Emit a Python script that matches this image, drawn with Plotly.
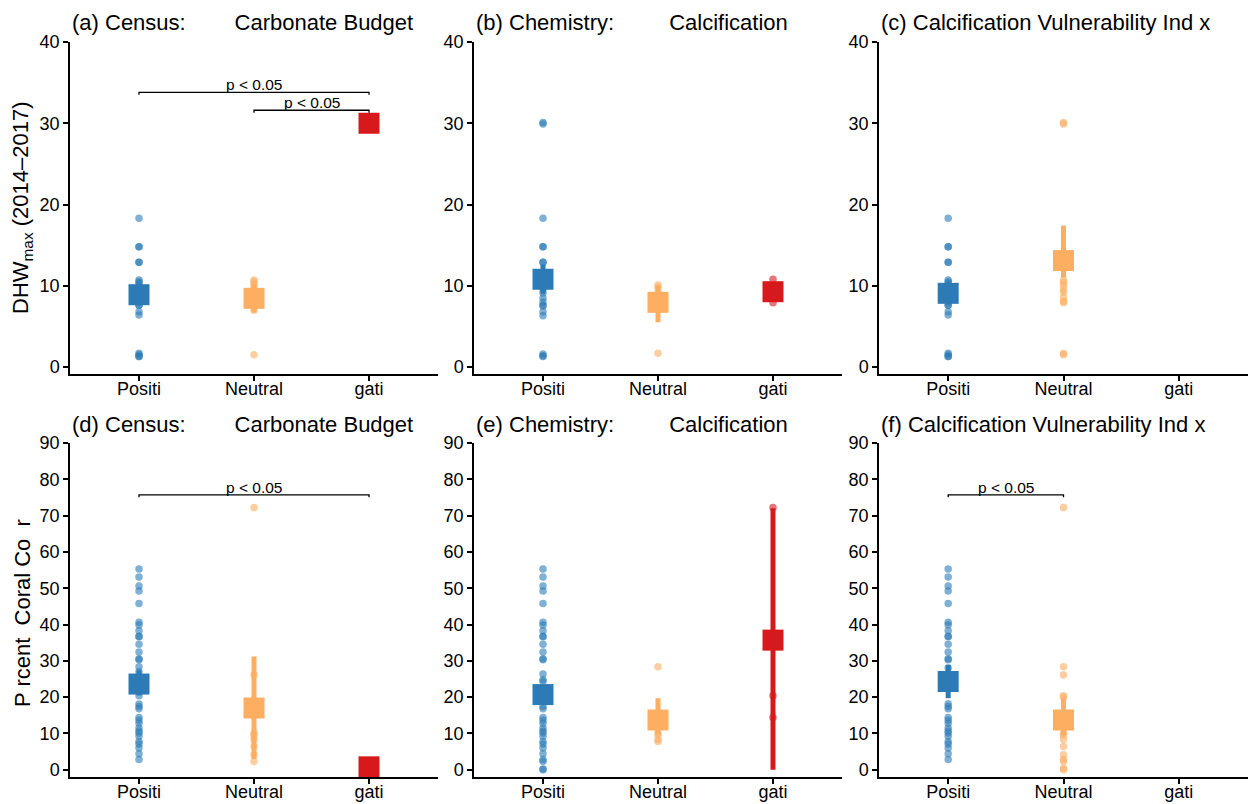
import plotly.graph_objects as go

# ---------------- data ----------------
categories = ["Positi", "Neutral", "gati"]
colors = ["#2C7BB6", "#FDAE61", "#D7191C"]

titles = [
    "(a) Census:\u00a0\u00a0\u00a0\u00a0\u00a0\u00a0\u00a0\u00a0Carbonate Budget",
    "(b) Chemistry:\u00a0\u00a0\u00a0\u00a0\u00a0\u00a0\u00a0\u00a0\u00a0Calcification",
    "(c) Calcification Vulnerability Ind x",
    "(d) Census:\u00a0\u00a0\u00a0\u00a0\u00a0\u00a0\u00a0\u00a0Carbonate Budget",
    "(e) Chemistry:\u00a0\u00a0\u00a0\u00a0\u00a0\u00a0\u00a0\u00a0\u00a0Calcification",
    "(f) Calcification Vulnerability Ind x",
]
ytitle_top = "DHW<sub>max</sub> (2014\u20132017)"
ytitle_bottom = "P rcent\u00a0 Coral Co\u00a0 r"

# DHWmax panels
a_pos = [18.3, 14.8, 14.8, 12.9, 12.9, 10.7, 10.5, 10.3, 10.0, 9.6, 9.2, 8.8, 8.4, 8.0, 7.6, 7.6, 6.8, 6.4, 1.7, 1.5, 1.3, 1.3]
a_neu = [10.7, 10.5, 10.2, 9.8, 9.0, 8.5, 8.0, 7.4, 7.0, 1.5]
a_neg = [30.0]
a_mean = [8.9, 8.45, 30.0]
a_lo = [7.7, 6.7, 30.0]
a_hi = [10.1, 10.2, 30.0]

b_pos = [30.1, 29.9, 18.3, 14.8, 14.8, 12.9, 12.9, 11.5, 10.7, 10.3, 9.6, 9.1, 8.5, 8.0, 7.6, 7.5, 6.8, 6.3, 1.6, 1.4, 1.3]
b_neu = [10.1, 9.8, 9.2, 8.5, 7.8, 7.2, 1.7]
b_neg = [10.8, 9.5, 8.5, 7.9]
b_mean = [10.8, 7.96, 9.27]
b_lo = [9.0, 5.5, 8.3]
b_hi = [12.6, 10.0, 10.3]

c_pos = [18.3, 14.8, 14.8, 12.9, 12.9, 10.7, 10.5, 10.3, 10.0, 9.6, 9.2, 8.8, 8.4, 8.0, 7.6, 7.6, 6.8, 6.4, 1.7, 1.5, 1.3, 1.3]
c_neu = [30.1, 29.9, 10.7, 10.4, 10.0, 9.5, 9.2, 8.6, 8.1, 7.9, 1.7, 1.5]
c_neg = []
c_mean = [9.07, 13.1, None]
c_lo = [7.9, 11.0, None]
c_hi = [10.2, 17.4, None]

# Percent coral cover panels
d_pos = [55.3, 53.1, 50.6, 49.2, 45.8, 40.6, 39.9, 38.3, 36.8, 36.6, 34.6, 32.4, 30.6, 30.3, 28.4, 27.0,
         25.5, 23.0, 21.5, 20.4, 18.1, 17.4, 16.8, 14.4, 13.6, 12.8, 11.5, 10.7, 10.1, 9.2, 7.8, 7.1, 6.0, 4.4, 2.8]
d_neu = [72.2, 26.1, 18.0, 16.0, 10.1, 9.6, 8.3, 6.4, 4.1, 2.3]
d_neg = [0.8]
d_mean = [23.6, 17.0, 0.8]
d_lo = [20.5, 3.0, 0.8]
d_hi = [27.4, 31.2, 0.8]

e_pos = [55.3, 53.1, 50.6, 49.2, 45.8, 40.6, 39.9, 38.3, 36.8, 36.6, 34.6, 32.4, 30.6, 30.3, 26.4, 24.8,
         24.3, 22.0, 19.5, 17.4, 16.8, 14.4, 13.6, 12.8, 11.5, 10.7, 10.1, 9.2, 7.8, 7.1, 6.0, 4.4, 2.8, 2.3, 0.2, 0.0]
e_neu = [28.4, 15.0, 12.0, 10.1, 9.6, 8.3, 7.8]
e_neg = [72.2, 20.4, 14.4]
e_mean = [20.7, 13.7, 35.7]
e_lo = [18.3, 9.8, 0.0]
e_hi = [23.3, 19.7, 72.0]

f_pos = [55.3, 53.1, 50.6, 49.2, 45.8, 40.6, 39.9, 38.3, 36.8, 36.6, 34.6, 32.4, 30.6, 30.3, 28.0, 25.5,
         23.0, 18.2, 17.4, 16.8, 14.4, 13.6, 12.8, 11.5, 10.7, 10.1, 9.2, 7.8, 7.1, 6.0, 4.4, 2.8]
f_neu = [72.2, 28.4, 26.1, 20.4, 20.0, 15.0, 12.5, 10.1, 9.6, 8.3, 6.4, 4.1, 2.8, 2.3, 0.5, 0.0]
f_neg = []
f_mean = [24.3, 13.7, None]
f_lo = [19.7, 9.5, None]
f_hi = [28.9, 19.7, None]

# significance brackets: (from group, to group, height)
a_brackets = [(1, 3, 33.8), (2, 3, 31.6)]
b_brackets = []
c_brackets = []
d_brackets = [(1, 3, 75.7)]
e_brackets = []
f_brackets = [(1, 2, 75.7)]
sig_label = "p < 0.05"

yticks_top = [0, 10, 20, 30, 40]
yticks_bottom = [0, 10, 20, 30, 40, 50, 60, 70, 80, 90]

# ---------------- layout geometry ----------------
W, H = 1249, 804
FONT = "Liberation Sans, Arial, Helvetica, sans-serif"
xdoms = [[70 / W, 438 / W], [474 / W, 842 / W], [879 / W, 1248 / W]]
ydom_top = [1 - 374 / H, 1 - 42 / H]
ydom_bot = [1 - 777 / H, 1 - 443 / H]

panels = [
    dict(pts=[a_pos, a_neu, a_neg], mean=a_mean, lo=a_lo, hi=a_hi, br=a_brackets),
    dict(pts=[b_pos, b_neu, b_neg], mean=b_mean, lo=b_lo, hi=b_hi, br=b_brackets),
    dict(pts=[c_pos, c_neu, c_neg], mean=c_mean, lo=c_lo, hi=c_hi, br=c_brackets),
    dict(pts=[d_pos, d_neu, d_neg], mean=d_mean, lo=d_lo, hi=d_hi, br=d_brackets),
    dict(pts=[e_pos, e_neu, e_neg], mean=e_mean, lo=e_lo, hi=e_hi, br=e_brackets),
    dict(pts=[f_pos, f_neu, f_neg], mean=f_mean, lo=f_lo, hi=f_hi, br=f_brackets),
]

fig = go.Figure()
annotations = []
layout = {}

for i, p in enumerate(panels):
    suf = "" if i == 0 else str(i + 1)
    xa, ya = "x" + suf, "y" + suf
    top = i < 3
    tip = 0.3 if top else 0.65

    # error bars (CI)
    for g in range(3):
        m = p["mean"][g]
        if m is None:
            continue
        fig.add_trace(go.Scatter(
            x=[g + 1], y=[m], mode="markers",
            marker=dict(size=2, opacity=0, color=colors[g]),
            error_y=dict(type="data", symmetric=False, array=[p["hi"][g] - m],
                         arrayminus=[m - p["lo"][g]], thickness=5, width=0, color=colors[g]),
            xaxis=xa, yaxis=ya, showlegend=False, hoverinfo="skip"))

    # raw points
    for g in range(3):
        pts = p["pts"][g]
        if not pts:
            continue
        fig.add_trace(go.Scatter(
            x=[g + 1] * len(pts), y=pts, mode="markers",
            marker=dict(size=7.5, color=colors[g], opacity=0.6, line=dict(width=0)),
            xaxis=xa, yaxis=ya, showlegend=False))

    # mean squares
    for g in range(3):
        m = p["mean"][g]
        if m is None:
            continue
        fig.add_trace(go.Scatter(
            x=[g + 1], y=[m], mode="markers",
            marker=dict(symbol="square", size=21, color=colors[g], line=dict(width=0)),
            xaxis=xa, yaxis=ya, showlegend=False))

    # significance brackets
    for (x0, x1, yb) in p["br"]:
        fig.add_trace(go.Scatter(
            x=[x0, x0, x1, x1], y=[yb - tip, yb, yb, yb - tip], mode="lines",
            line=dict(color="black", width=1.3), xaxis=xa, yaxis=ya,
            showlegend=False, hoverinfo="skip"))
        annotations.append(dict(
            x=(x0 + x1) / 2, y=yb, xref=xa, yref=ya, text=sig_label, showarrow=False,
            xanchor="center", yanchor="bottom", yshift=-3,
            font=dict(family=FONT, size=15.5, color="black")))

    axis_common = dict(showline=True, linecolor="black", linewidth=1.5, ticks="outside",
                       ticklen=5, tickwidth=1.5, tickcolor="black", showgrid=False,
                       zeroline=False, automargin=False,
                       tickfont=dict(family=FONT, size=18, color="black"))
    layout["xaxis" + suf] = dict(axis_common, domain=xdoms[i % 3], range=[0.4, 3.6],
                                 tickvals=[1, 2, 3], ticktext=categories, anchor=ya,
                                 ticklabelstandoff=-7)
    layout["yaxis" + suf] = dict(axis_common, domain=ydom_top if top else ydom_bot,
                                 range=[-0.86, 40] if top else [-2, 90],
                                 tickvals=yticks_top if top else yticks_bottom, anchor=xa)

    # panel title
    annotations.append(dict(
        x=xdoms[i % 3][0], y=(1 - 22 / H) if top else (1 - 425 / H), xref="paper", yref="paper",
        text=titles[i], showarrow=False, xanchor="left", yanchor="middle",
        font=dict(family=FONT, size=22, color="black")))

# y axis titles
annotations.append(dict(x=22 / W, y=1 - 208 / H, xref="paper", yref="paper", text=ytitle_top,
                        textangle=-90, showarrow=False, xanchor="center", yanchor="middle",
                        font=dict(family=FONT, size=22, color="black")))
annotations.append(dict(x=22 / W, y=1 - 613 / H, xref="paper", yref="paper", text=ytitle_bottom,
                        textangle=-90, showarrow=False, xanchor="center", yanchor="middle",
                        font=dict(family=FONT, size=22, color="black")))

fig.update_layout(**layout)
fig.update_layout(width=W, height=H, margin=dict(l=0, r=0, t=0, b=0),
                  paper_bgcolor="white", plot_bgcolor="white",
                  annotations=annotations, showlegend=False,
                  font=dict(family=FONT, color="black"))

fig.write_html("out.html")
